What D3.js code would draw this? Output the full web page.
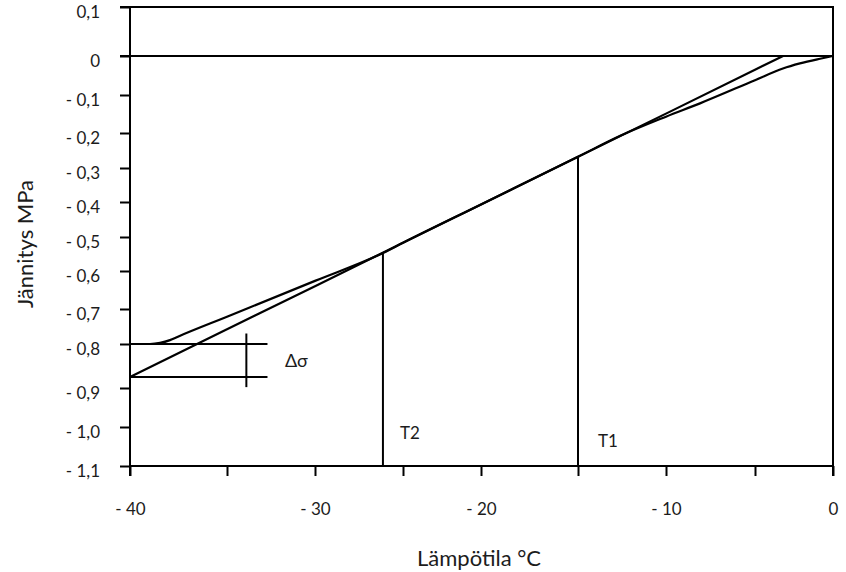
<!DOCTYPE html>
<html>
<head>
<meta charset="utf-8">
<script src="https://cdn.jsdelivr.net/npm/d3@7"></script>
<style>
  html, body { margin: 0; padding: 0; background: #fff; }
  svg { display: block; }
  text { font-family: Lato, "Open Sans", sans-serif; fill: #1c1c1c; }
</style>
</head>
<body>
<script>
// Temperature axis (°C): tick values and which of them carry a label
const tempTicks = [-40, -35, -30, -25, -20, -15, -10, -5, 0];
const tempLabelled = [-40, -30, -20, -10, 0];
// Stress axis (MPa) tick values
const stressTicks = [0.1, 0, -0.1, -0.2, -0.3, -0.4, -0.5, -0.6, -0.7, -0.8, -0.9, -1.0, -1.1];

// Straight stress line (curve A)
const tempA   = [-40, -35, -30, -25, -20, -15, -10, -5, -3.2];
const stressA = [-0.875, -0.758, -0.640, -0.517, -0.407, -0.268, -0.149, -0.035, 0];

// Curved stress line (curve B)
const tempB   = [-40, -38.97, -38.45, -37.94, -37.53, -35, -30, -26.14, -25, -20, -15, -12.6, -10, -8.09, -5, -3.21, -2.12, -0.83, 0];
const stressB = [-0.8, -0.8, -0.797, -0.789, -0.779, -0.722, -0.626, -0.547, -0.517, -0.407, -0.268, -0.208, -0.157, -0.122, -0.062, -0.032, -0.019, -0.007, 0];

// Marked temperatures T1 and T2 with the stress where each meets the curves
const markNames  = ["T1", "T2"];
const markTemps  = [-15, -26.14];
const markStress = [-0.268, -0.547];

// Stress difference marker Δσ
const deltaStress = [-0.8, -0.875];
const deltaTempEnd = -32.7;
const deltaBarTemp = -33.9;
const deltaBarStress = [-0.77, -0.898];

// Axis layout: pixel stops of the tick marks along each axis
const tempStops   = [130, 227, 315, 403, 481, 578, 666, 755, 833];
const stressStops = [7, 56, 95, 133, 168, 202, 237, 271, 309, 344, 388, 427, 466];

const W = 846, H = 572;
const svg = d3.select("body").append("svg").attr("width", W).attr("height", H);

const x = d3.scaleLinear().domain(tempTicks).range(tempStops);
const y = d3.scaleLinear().domain(stressTicks).range(stressStops);

const fmtStress = v => {
  if (Math.abs(v) < 1e-9) return "0";
  const s = Math.abs(v).toFixed(1).replace(".", ",");
  return v < 0 ? "- " + s : s;
};
const fmtTemp = v => {
  if (!tempLabelled.includes(v)) return "";
  if (v === 0) return "0";
  return "- " + Math.abs(v);
};

const plotLeft = x(-40), plotRight = x(0), plotTop = y(0.1), plotBottom = y(-1.1);

// Plot frame (top and right edges)
svg.append("path")
  .attr("d", `M${plotLeft - 10},${plotTop}H${plotRight}V${plotBottom + 10}`)
  .attr("fill", "none").attr("stroke", "#000").attr("stroke-width", 2);

// Zero stress line
svg.append("line")
  .attr("x1", plotLeft - 10).attr("x2", plotRight)
  .attr("y1", y(0)).attr("y2", y(0))
  .attr("stroke", "#000").attr("stroke-width", 2);

// Axes
const yAxis = svg.append("g").attr("transform", `translate(${plotLeft},0)`)
  .call(d3.axisLeft(y).tickValues(stressTicks).tickFormat(fmtStress)
    .tickSize(10).tickSizeOuter(0).tickPadding(20));
const xAxis = svg.append("g").attr("transform", `translate(0,${plotBottom})`)
  .call(d3.axisBottom(x).tickValues(tempTicks).tickFormat(fmtTemp)
    .tickSize(10).tickSizeOuter(0).tickPadding(27));

[yAxis, xAxis].forEach(g => {
  g.select(".domain").attr("stroke", "#000").attr("stroke-width", 2);
  g.selectAll(".tick line").attr("stroke", "#000").attr("stroke-width", 2);
  g.selectAll(".tick text").attr("font-family", "Lato, sans-serif")
    .attr("font-size", 17).attr("fill", "#1c1c1c");
});
yAxis.selectAll(".tick text").attr("dy", "0.6em");
// extend the vertical axis down to the tick length
yAxis.select(".domain").attr("d", `M0,${plotTop}V${plotBottom + 10}`);
xAxis.select(".domain").attr("d", `M${plotLeft},0H${plotRight}`);

// Curves
const lineGen = (xs, ys, curve) => d3.line()
  .x(i => x(xs[i])).y(i => y(ys[i])).curve(curve)(d3.range(xs.length));

svg.append("path").attr("d", lineGen(tempA, stressA, d3.curveLinear))
  .attr("fill", "none").attr("stroke", "#000").attr("stroke-width", 2.2);
svg.append("path").attr("d", lineGen(tempB, stressB, d3.curveMonotoneX))
  .attr("fill", "none").attr("stroke", "#000").attr("stroke-width", 2.2);

// T1 / T2 verticals and labels
markNames.forEach((name, i) => {
  svg.append("line")
    .attr("x1", x(markTemps[i])).attr("x2", x(markTemps[i]))
    .attr("y1", y(markStress[i])).attr("y2", plotBottom)
    .attr("stroke", "#000").attr("stroke-width", 2);
});
svg.append("text").attr("x", x(markTemps[1]) + 17).attr("y", y(-1.03))
  .attr("font-size", 17).text(markNames[1]);
svg.append("text").attr("x", x(markTemps[0]) + 20).attr("y", y(-1.05))
  .attr("font-size", 17).text(markNames[0]);

// Δσ marker
deltaStress.forEach(s => {
  svg.append("line")
    .attr("x1", plotLeft).attr("x2", x(deltaTempEnd))
    .attr("y1", y(s)).attr("y2", y(s))
    .attr("stroke", "#000").attr("stroke-width", 2);
});
svg.append("line")
  .attr("x1", x(deltaBarTemp)).attr("x2", x(deltaBarTemp))
  .attr("y1", y(deltaBarStress[0])).attr("y2", y(deltaBarStress[1]))
  .attr("stroke", "#000").attr("stroke-width", 2);
svg.append("text").attr("x", x(-31.7)).attr("y", y(-0.852))
  .attr("font-size", 18).text("Δσ");

// Axis titles
svg.append("text").attr("x", 479).attr("y", 566)
  .attr("text-anchor", "middle").attr("font-size", 22).text("Lämpötila °C");
svg.append("text").attr("transform", "translate(33,244) rotate(-90)")
  .attr("text-anchor", "middle").attr("font-size", 22).text("Jännitys MPa");
</script>
</body>
</html>
